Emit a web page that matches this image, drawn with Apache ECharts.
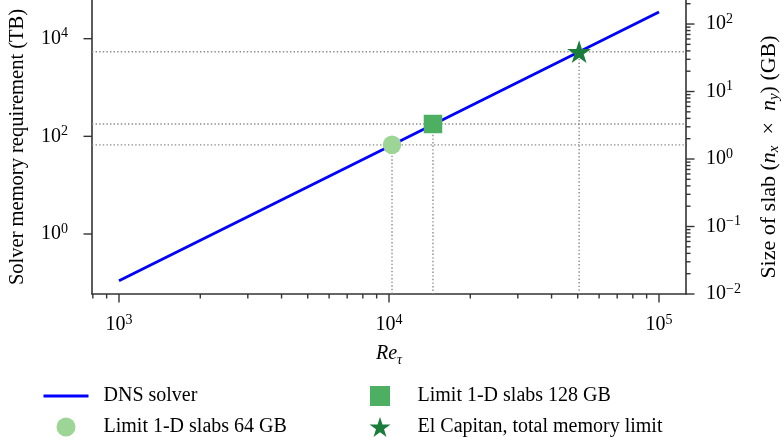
<!DOCTYPE html>
<html><head><meta charset="utf-8">
<script src="https://cdn.jsdelivr.net/npm/echarts@6/dist/echarts.min.js"></script>
<style>html,body{margin:0;padding:0;background:#fff}#c{width:784px;height:445px}</style>
</head><body><div id="c"></div>
<script>
// ---- data ----
const reTau = [1000, 10000, 100000];
const dnsMemoryTB = [0.11, 62, 35200];
const slab64 = [10260, 67];
const slab128 = [14550, 179];
const elCapitan = [50600, 5420];
// tick values
const xMajorTicks = [1e3, 1e4, 1e5];
const xMinorTicks = [800, 900, 2000, 3000, 4000, 5000, 6000, 7000, 8000, 9000,
  20000, 30000, 40000, 50000, 60000, 70000, 80000, 90000];
const yLeftMajorTicks = [1, 100, 10000];
const yRightMajorTicks = [0.01, 0.1, 1, 10, 100];
const yRightMinorTicks = [0.02, 0.03, 0.04, 0.05, 0.06, 0.07, 0.08, 0.09,
  0.2, 0.3, 0.4, 0.5, 0.6, 0.7, 0.8, 0.9, 2, 3, 4, 5, 6, 7, 8, 9,
  20, 30, 40, 50, 60, 70, 80, 90, 200];
const legendCol1 = ['DNS solver', 'Limit 1-D slabs 64 GB'];
const legendCol2 = ['Limit 1-D slabs 128 GB', 'El Capitan, total memory limit'];

// ---- axis limits ----
const X_MIN = Math.pow(10, 2.9), X_MAX = Math.pow(10, 5.1);
const YL_MIN = Math.pow(10, -1.229), YL_MAX = Math.pow(10, 4.7925);
const YR_MIN = 0.01, YR_MAX = Math.pow(10, 2.356);

const FONT = '"Liberation Serif", "Times New Roman", serif';
const AX = '#333';
const STAR = 'path://M50,0 L61.2,34.5 L97.6,34.5 L68.2,55.9 L79.4,90.5 L50,69.1 L20.6,90.5 L31.8,55.9 L2.4,34.5 L38.8,34.5 Z';
const SQUARE = 'path://M0,0 H10 V10 H0 Z';
const LINE_ICON = 'path://M0,0 H45 V2.8 H0 Z';

function expLabel(v, onlyEven) {
  const e = Math.log10(v), r = Math.round(e);
  if (Math.abs(e - r) > 1e-6) return '';
  if (onlyEven && r % 2 !== 0) return '';
  const s = r < 0 ? '\u2212' + (-r) : String(r);
  return '{b|10}{s|' + s + '}';
}
const labelRich = {
  b: {fontSize: 20, fontFamily: FONT, color: '#000', lineHeight: 24},
  s: {fontSize: 14, fontFamily: FONT, color: '#000', lineHeight: 14, verticalAlign: 'top'}
};

function tickSeries(name, values, major, axis) {
  const data = values.map(v => axis === 'x' ? [v, 1, major] : [X_MAX, v, major]);
  return {
    type: 'custom', name: name, clip: false, silent: true, z: 5,
    yAxisIndex: axis === 'yr' ? 1 : 0,
    encode: {x: 0, y: 1},
    data: data,
    renderItem: function (params, api) {
      const isMajor = api.value(2) === 1;
      const len = isMajor ? 8.5 : 4.5;
      let p, shape;
      if (axis === 'x') {
        p = api.coord([api.value(0), YL_MIN]);
        shape = {x1: p[0], y1: p[1], x2: p[0], y2: p[1] + len};
      } else if (axis === 'yr') {
        p = api.coord([X_MAX, api.value(1)]);
        shape = {x1: p[0], y1: p[1], x2: p[0] + len, y2: p[1]};
      } else {
        p = api.coord([X_MIN, api.value(1)]);
        shape = {x1: p[0], y1: p[1], x2: p[0] - len, y2: p[1]};
      }
      return {type: 'line', shape: shape, style: {stroke: AX, lineWidth: 1.4}};
    }
  };
}
function guide(pt) {
  return {
    type: 'line', name: 'guide', z: 1, silent: true, symbol: 'none',
    lineStyle: {color: '#8a8a8a', width: 1.4, type: [1.4, 2.2]},
    data: [[X_MIN, pt[1]], [X_MAX, pt[1]], '-', [pt[0], pt[1]], [pt[0], YL_MIN]],
    connectNulls: false
  };
}
const legendBase = {
  orient: 'vertical', top: 386, padding: 0, itemWidth: 45, itemHeight: 19, itemGap: 11,
  selectedMode: false,
  textStyle: {fontSize: 20, lineHeight: 20, fontFamily: FONT, color: '#000', padding: [0, 0, 0, 10]}
};

const chart = echarts.init(document.getElementById('c'), null, {renderer: 'canvas'});
chart.setOption({
  animation: false,
  backgroundColor: '#fff',
  grid: {left: 92, right: 98, top: 0, bottom: 151, containLabel: false, outerBoundsMode: 'none'},
  xAxis: {
    type: 'log', logBase: 10, min: X_MIN, max: X_MAX,
    axisLine: {onZero: false, lineStyle: {color: AX, width: 1.6}},
    axisTick: {show: false}, splitLine: {show: false}, minorTick: {show: false},
    axisLabel: {margin: 19, formatter: v => expLabel(v, false), rich: labelRich},
    name: '{i|Re}{sub|\u03c4}', nameLocation: 'middle', nameGap: 47,
    nameTextStyle: {rich: {
      i: {fontSize: 20, fontFamily: FONT, fontStyle: 'italic', color: '#000', lineHeight: 26},
      sub: {fontSize: 14, fontFamily: FONT, fontStyle: 'italic', color: '#000', lineHeight: 14, verticalAlign: 'bottom'}
    }}
  },
  yAxis: [{
    type: 'log', logBase: 10, min: YL_MIN, max: YL_MAX, position: 'left',
    axisLine: {show: true, lineStyle: {color: AX, width: 1.6}},
    axisTick: {show: false}, splitLine: {show: false},
    axisLabel: {margin: 24, formatter: v => expLabel(v, true), rich: labelRich},
    name: 'Solver memory requirement (TB)', nameLocation: 'middle', nameGap: 64, nameRotate: 90,
    nameTextStyle: {fontSize: 20.5, fontFamily: FONT, color: '#000'}
  }, {
    type: 'log', logBase: 10, min: YR_MIN, max: YR_MAX, position: 'right',
    axisLine: {show: true, lineStyle: {color: AX, width: 1.6}},
    axisTick: {show: false}, splitLine: {show: false},
    axisLabel: {margin: 20, formatter: v => expLabel(v, false), rich: labelRich},
    name: '{t|Size of slab }{t|(}{i|n}{sub|x}{t|  \u00d7  }{i|n}{sub|y}{t|) (GB)}',
    nameLocation: 'middle', nameGap: 70, nameRotate: 90,
    nameTextStyle: {padding: [0, 20, 0, 0], rich: {
      t: {fontSize: 22, fontFamily: FONT, color: '#000', lineHeight: 26},
      i: {fontSize: 22, fontFamily: FONT, fontStyle: 'italic', color: '#000', lineHeight: 26},
      sub: {fontSize: 15, fontFamily: FONT, fontStyle: 'italic', color: '#000', lineHeight: 14, verticalAlign: 'bottom'}
    }}
  }],
  legend: [Object.assign({}, legendBase, {
    left: 43.5,
    data: [{name: legendCol1[0], icon: LINE_ICON}, {name: legendCol1[1], icon: 'circle'}]
  }), Object.assign({}, legendBase, {
    left: 369.5, itemHeight: 20,
    data: [{name: legendCol2[0], icon: SQUARE}, {name: legendCol2[1], icon: STAR}]
  })],
  series: [
    guide(slab64), guide(slab128), guide(elCapitan),
    {
      type: 'line', name: 'DNS solver', z: 2, symbol: 'none', silent: true,
      lineStyle: {color: '#0000ff', width: 2.8}, itemStyle: {color: '#0000ff'},
      data: reTau.map((x, i) => [x, dnsMemoryTB[i]])
    },
    {type: 'scatter', name: 'Limit 1-D slabs 64 GB', z: 3, symbol: 'circle', symbolSize: 18.5,
      itemStyle: {color: '#9dd596', opacity: 1}, data: [slab64]},
    {type: 'scatter', name: 'Limit 1-D slabs 128 GB', z: 3, symbol: SQUARE, symbolSize: 18.5,
      itemStyle: {color: '#4caf62', opacity: 1}, data: [slab128]},
    {type: 'scatter', name: 'El Capitan, total memory limit', z: 3, symbol: STAR, symbolKeepAspect: true,
      symbolSize: 24, itemStyle: {color: '#1a7d3c', opacity: 1}, data: [elCapitan]},
    tickSeries('xt', xMajorTicks, 1, 'x'), tickSeries('xt2', xMinorTicks, 0, 'x'),
    tickSeries('ylt', yLeftMajorTicks, 1, 'yl'),
    tickSeries('yrt', yRightMajorTicks, 1, 'yr'), tickSeries('yrt2', yRightMinorTicks, 0, 'yr')
  ]
});
</script></body></html>
